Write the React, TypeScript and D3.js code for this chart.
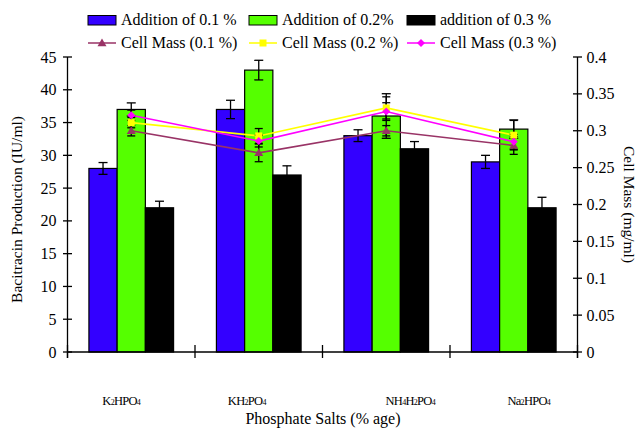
import React from "react";
import * as d3 from "d3";

const categories = ["K2HPO4", "KH2PO4", "NH4H2PO4", "Na2HPO4"];
const catLabelParts: [string, boolean][][] = [
  [["K", false], ["2", true], ["HPO", false], ["4", true]],
  [["KH", false], ["2", true], ["PO", false], ["4", true]],
  [["NH", false], ["4", true], ["H", false], ["2", true], ["PO", false], ["4", true]],
  [["Na", false], ["2", true], ["HPO", false], ["4", true]],
];
const barSeriesNames = ["Addition of 0.1 %", "Addition of 0.2%", "addition of 0.3 %"];
const barValues01 = [28, 37, 33, 29];
const barValues02 = [37, 43, 36, 34];
const barValues03 = [22, 27, 31, 22];
const barErr01 = [0.9, 1.4, 0.9, 1.0];
const barErr02 = [1.0, 1.5, 3.4, 1.4];
const barErr03 = [1.0, 1.4, 1.1, 1.6];

const lineSeriesNames = ["Cell Mass (0.1 %)", "Cell Mass (0.2 %)", "Cell Mass (0.3 %)"];
const cellMass01 = [0.3, 0.27, 0.3, 0.28];
const cellMass02 = [0.311, 0.293, 0.331, 0.294];
const cellMass03 = [0.321, 0.286, 0.326, 0.285];
const cellErr01 = [0.007, 0.012, 0.007, 0.012];
const cellErr02 = [0.007, 0.01, 0.015, 0.02];
const cellErr03 = [0.007, 0.008, 0.012, 0.01];

const leftTicks = [0, 5, 10, 15, 20, 25, 30, 35, 40, 45];
const rightTicks = [0, 0.05, 0.1, 0.15, 0.2, 0.25, 0.3, 0.35, 0.4];

const barColors = ["#3300ff", "#55ff00", "#000000"];
const lineColors = ["#993366", "#ffff00", "#ff00ff"];

export default function App() {
  const W = 639, H = 429;
  const L = 67.5, R = 577.5, T = 57, B = 352;
  const font = "Liberation Serif, Times New Roman, Times, DejaVu Serif, serif";

  const x0 = d3.scaleBand<string>().domain(categories).range([L, R]).padding(0);
  const bw = x0.bandwidth();
  const x1 = d3.scaleBand<number>().domain([0, 1, 2]).range([0.168 * bw, 0.832 * bw]).padding(0);
  const yL = d3.scaleLinear().domain([0, 45]).range([B, T]);
  const yR = d3.scaleLinear().domain([0, 0.4]).range([B, T]);

  const bars = [barValues01, barValues02, barValues03];
  const barErrs = [barErr01, barErr02, barErr03];
  const lines = [cellMass01, cellMass02, cellMass03];
  const lineErrs = [cellErr01, cellErr02, cellErr03];

  const lineX = (i: number) => (x0(categories[i]) as number) + (x1(1) as number) + x1.bandwidth() / 2;
  const lineGen = d3
    .line<number>()
    .x((_, i) => lineX(i))
    .y((d) => yR(d));

  const marker = (k: number, cx: number, cy: number, key: string) => {
    const c = lineColors[k];
    if (k === 0) {
      const s = 4.5;
      return <path key={key} d={`M${cx},${cy - s}L${cx + s},${cy + s * 0.7}L${cx - s},${cy + s * 0.7}Z`} fill={c} />;
    }
    if (k === 1) {
      return <rect key={key} x={cx - 3.5} y={cy - 3.5} width={7} height={7} fill={c} />;
    }
    const s = 4;
    return <path key={key} d={`M${cx},${cy - s}L${cx + s},${cy}L${cx},${cy + s}L${cx - s},${cy}Z`} fill={c} />;
  };

  const errBar = (cx: number, yTop: number, yBot: number, key: string, cap = 4.5) => (
    <g key={key} stroke="#000" strokeWidth={1.3}>
      <line x1={cx} x2={cx} y1={yTop} y2={yBot} />
      <line x1={cx - cap} x2={cx + cap} y1={yTop} y2={yTop} />
      <line x1={cx - cap} x2={cx + cap} y1={yBot} y2={yBot} />
    </g>
  );

  const legendCols = [88, 249, 407];

  return (
    <svg width={W} height={H} style={{ display: "block", position: "absolute", left: 0, top: 0, fontFamily: font }}>
      <rect width={W} height={H} fill="#fff" />
      {/* Legend */}
      {barSeriesNames.map((n, k) => (
        <g key={"lb" + k}>
          <rect x={legendCols[k]} y={15.5} width={28} height={9.5} fill={barColors[k]} stroke="#000" strokeWidth={1} />
          <text x={legendCols[k] + 33} y={25} fontSize={16} style={{ fontFamily: font }} fill="#000">{n}</text>
        </g>
      ))}
      {lineSeriesNames.map((n, k) => (
        <g key={"ll" + k}>
          <line x1={legendCols[k]} x2={legendCols[k] + 28} y1={43} y2={43} stroke={lineColors[k]} strokeWidth={1.5} />
          {marker(k, legendCols[k] + 14, 43, "lm" + k)}
          <text x={legendCols[k] + 33} y={48} fontSize={16} style={{ fontFamily: font }} fill="#000">{n}</text>
        </g>
      ))}

      {/* Bars */}
      {categories.map((c, i) => (
        <g key={"g" + i}>
          {bars.map((vals, k) => (
            <rect
              key={"b" + k}
              x={(x0(c) as number) + (x1(k) as number)}
              y={yL(vals[i])}
              width={x1.bandwidth()}
              height={yL(0) - yL(vals[i])}
              fill={barColors[k]}
              stroke="#000"
              strokeWidth={1.2}
            />
          ))}
        </g>
      ))}
      {/* Bar error bars */}
      {categories.map((c, i) =>
        bars.map((vals, k) => {
          const cx = (x0(c) as number) + (x1(k) as number) + x1.bandwidth() / 2;
          return errBar(cx, yL(vals[i] + barErrs[k][i]), yL(vals[i] - barErrs[k][i]), `e${i}-${k}`);
        })
      )}

      {/* Lines */}
      {lines.map((vals, k) => (
        <path key={"l" + k} d={lineGen(vals) as string} fill="none" stroke={lineColors[k]} strokeWidth={1.6} />
      ))}
      {lines.map((vals, k) =>
        vals.map((v, i) => errBar(lineX(i), yR(v + lineErrs[k][i]), yR(v - lineErrs[k][i]), `le${k}-${i}`, 4))
      )}
      {lines.map((vals, k) => vals.map((v, i) => marker(k, lineX(i), yR(v), `m${k}-${i}`)))}

      {/* Left axis */}
      <line x1={L} x2={L} y1={T} y2={B + 6} stroke="#000" strokeWidth={1.3} />
      {leftTicks.map((t) => (
        <g key={"lt" + t}>
          <line x1={L - 4.5} x2={L + 4.5} y1={yL(t)} y2={yL(t)} stroke="#000" strokeWidth={1.3} />
          <text x={L - 11} y={yL(t)} dy="0.35em" textAnchor="end" fontSize={16} style={{ fontFamily: font }} fill="#000">{t}</text>
        </g>
      ))}
      {/* Right axis */}
      <line x1={R} x2={R} y1={T} y2={B + 6} stroke="#000" strokeWidth={1.3} />
      {rightTicks.map((t) => (
        <g key={"rt" + t}>
          <line x1={R - 4.5} x2={R + 4.5} y1={yR(t)} y2={yR(t)} stroke="#000" strokeWidth={1.3} />
          <text x={R + 9} y={yR(t)} dy="0.35em" textAnchor="start" fontSize={16} style={{ fontFamily: font }} fill="#000">{d3.format("")(+t.toFixed(2))}</text>
        </g>
      ))}
      {/* X axis */}
      <line x1={L} x2={R} y1={B} y2={B} stroke="#000" strokeWidth={1.3} />
      {[...categories.map((c) => x0(c) as number), R].map((xv, i) => (
        <line key={"xt" + i} x1={xv} x2={xv} y1={B - 7} y2={B + 6} stroke="#000" strokeWidth={1.3} />
      ))}
      {categories.map((c, i) => {
        const offs = [-10, -12, 24, 15];
        return (
          <text key={"cl" + i} x={(x0(c) as number) + bw / 2 + offs[i]} y={405} textAnchor="middle" fontSize={12.5} letterSpacing={-0.7} style={{ fontFamily: font }} fill="#000">
            {catLabelParts[i].map(([s, sub], j) => (
              <tspan key={j} fontSize={sub ? 8 : 12.5}>{s}</tspan>
            ))}
          </text>
        );
      })}
      <text x={323} y={424} textAnchor="middle" fontSize={16} style={{ fontFamily: font }} fill="#000">Phosphate Salts (% age)</text>
      <text transform={`translate(22,${(T + B) / 2 + 5}) rotate(-90)`} textAnchor="middle" fontSize={15.5} style={{ fontFamily: font }} fill="#000">
        Bacitracin Production (IU/ml)
      </text>
      <text transform={`translate(624,${(T + B) / 2}) rotate(90)`} textAnchor="middle" fontSize={15.5} style={{ fontFamily: font }} fill="#000">
        Cell Mass (mg/ml)
      </text>
    </svg>
  );
}
